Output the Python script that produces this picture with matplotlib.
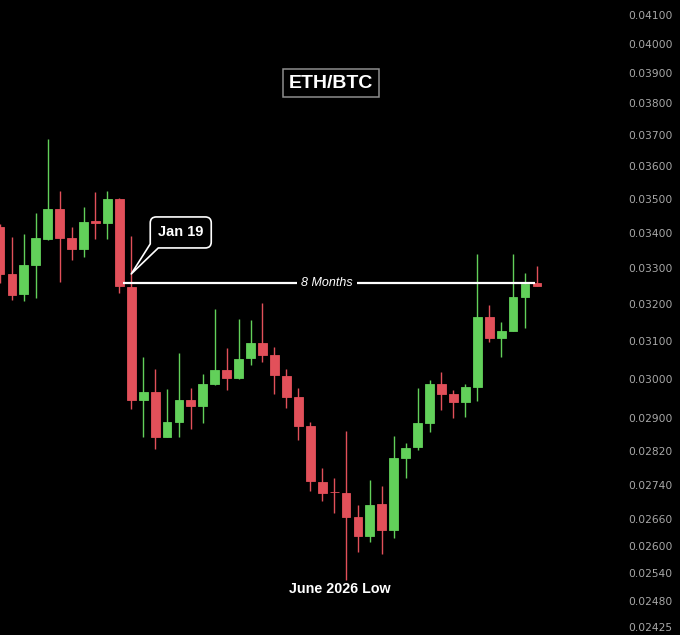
import numpy as np
import matplotlib
matplotlib.use("Agg")
import matplotlib.pyplot as plt
import matplotlib.transforms as mtransforms
from matplotlib.path import Path
from matplotlib.patches import PathPatch
from matplotlib.ticker import FixedLocator, FixedFormatter, NullLocator

# ---------------- data (ETH/BTC candles) ----------------
opens = [0.034187, 0.032819, 0.032261, 0.033082, 0.033828, 0.034701, 0.033848, 0.033539, 0.034356, 0.034288,
         0.035019, 0.032470, 0.029463, 0.029674, 0.028534, 0.028904, 0.029463, 0.029319, 0.029870, 0.030231,
         0.030031, 0.030536, 0.030948, 0.030631, 0.030083, 0.029530, 0.028812, 0.027468, 0.027225, 0.027195,
         0.026654, 0.026216, 0.026939, 0.026352, 0.028024, 0.028290, 0.028894, 0.029862, 0.029615, 0.029405,
         0.029801, 0.031646, 0.031080, 0.031260, 0.032194, 0.032567]
closes = [0.032828, 0.032241, 0.033074, 0.033848, 0.034701, 0.033848, 0.033530, 0.034326, 0.034297, 0.035019,
          0.032477, 0.029463, 0.029674, 0.028534, 0.028911, 0.029463, 0.029319, 0.029870, 0.030231, 0.030031,
          0.030525, 0.030948, 0.030631, 0.030101, 0.029530, 0.028812, 0.027492, 0.027209, 0.027213, 0.026654,
          0.026216, 0.026923, 0.026352, 0.028024, 0.028280, 0.028894, 0.029862, 0.029615, 0.029405, 0.029801,
          0.031646, 0.031080, 0.031260, 0.032194, 0.032538, 0.032499]
highs = [0.034267, 0.033895, 0.033965, 0.034583, 0.036850, 0.035261, 0.034187, 0.034779, 0.035231, 0.035261,
         0.035049, 0.033915, 0.030578, 0.030257, 0.029734, 0.030668, 0.029775, 0.030119, 0.031847, 0.030807,
         0.031591, 0.031557, 0.032029, 0.030842, 0.030257, 0.029775, 0.028919, 0.027785, 0.027547, 0.028697,
         0.026923, 0.027508, 0.027373, 0.028566, 0.028402, 0.029775, 0.029973, 0.030171, 0.029717, 0.029862,
         0.033396, 0.031965, 0.031495, 0.033396, 0.032848, 0.033054]
lows = [0.032575, 0.032103, 0.032075, 0.032149, 0.033800, 0.032611, 0.033225, 0.033318, 0.033819, 0.033819,
        0.032288, 0.029228, 0.028534, 0.028241, 0.028529, 0.028534, 0.028745, 0.028879, 0.029844, 0.029717,
        0.029998, 0.030353, 0.030440, 0.029615, 0.029261, 0.028468, 0.027256, 0.027023, 0.026746, 0.025245,
        0.025865, 0.026075, 0.025814, 0.026164, 0.027547, 0.028225, 0.028672, 0.029211, 0.029003, 0.029028,
        0.029438, 0.030959, 0.030562, 0.031260, 0.031332, 0.032491]

tick_values = [0.04100, 0.04000, 0.03900, 0.03800, 0.03700, 0.03600, 0.03500, 0.03400, 0.03300, 0.03200,
               0.03100, 0.03000, 0.02900, 0.02820, 0.02740, 0.02660, 0.02600, 0.02540, 0.02480, 0.02425]
tick_labels = ["0.04100", "0.04000", "0.03900", "0.03800", "0.03700", "0.03600", "0.03500", "0.03400",
               "0.03300", "0.03200", "0.03100", "0.03000", "0.02900", "0.02820", "0.02740", "0.02660",
               "0.02600", "0.02540", "0.02480", "0.02425"]

title = "ETH/BTC"
level_price = 0.032575          # Jan 19 level
level_span = (10.35, 44.85)     # candle index range of the level line
level_label = "8 Months"
callout_label = "Jan 19"
callout_index = 11
callout_price = 0.032828
low_label = "June 2026 Low"
low_label_pos = (28.5, 0.02505)

GREEN = "#62d05a"
RED = "#e2505a"
WHITE = "#ffffff"
SANS = ["Liberation Sans", "DejaVu Sans"]

# ---------------- figure ----------------
W, H = 680, 635
fig = plt.figure(figsize=(W / 100, H / 100), dpi=100, facecolor="black")
ax = fig.add_axes([0, 0, 622 / W, 1], facecolor="black")
ax.set_yscale("log")
ax.set_ylim(0.02408, 0.04153)
ax.set_xlim(0, 52.13)

o = np.array(opens); c = np.array(closes); h = np.array(highs); l = np.array(lows)
x = np.arange(len(o))
cols = [GREEN if cc >= oo else RED for oo, cc in zip(o, c)]

ax.vlines(x, l, h, colors=cols, linewidth=1.0, zorder=2)
ax.bar(x, np.abs(c - o), bottom=np.minimum(o, c), width=0.74, color=cols,
       edgecolor=cols, linewidth=0.6, zorder=3)

# axis styling
for s in ax.spines.values():
    s.set_visible(False)
ax.xaxis.set_visible(False)
ax.yaxis.tick_right()
ax.yaxis.set_major_locator(FixedLocator(tick_values))
ax.yaxis.set_major_formatter(FixedFormatter(tick_labels))
ax.yaxis.set_minor_locator(NullLocator())
ax.tick_params(axis="y", length=0, pad=4.3, labelsize=7.7, labelcolor="#a8a8a8")

# level line with label
ax.hlines(level_price, level_span[0], level_span[1], color=WHITE, linewidth=1.6, zorder=5)
ax.text(27.4, level_price, level_label, color=WHITE, fontsize=9, style="italic",
        family=SANS, ha="center", va="center", zorder=6,
        bbox=dict(boxstyle="square,pad=0.35", fc="black", ec="none"))

# title
ax.text(331 / 622, 1 - 83 / 635, title, transform=ax.transAxes, color=WHITE,
        fontsize=14, fontweight="bold", family=SANS, ha="center", va="center", zorder=6,
        bbox=dict(boxstyle="square,pad=0.3", fc="black", ec="#8e8e8e", lw=1.1))

# callout bubble (offsets in pixels from tip, converted to points)
k = 72 / 100
r = 6
x0, x1, y0, y1 = 19, 80, 26, 57
verts = [(0, 0), (27, y0), (x1 - r, y0), (x1, y0), (x1, y0 + r), (x1, y1 - r), (x1, y1),
         (x1 - r, y1), (x0 + r, y1), (x0, y1), (x0, y1 - r), (x0, 30), (0, 0)]
codes = [Path.MOVETO, Path.LINETO, Path.LINETO, Path.CURVE3, Path.CURVE3, Path.LINETO,
         Path.CURVE3, Path.CURVE3, Path.LINETO, Path.CURVE3, Path.CURVE3, Path.LINETO, Path.CLOSEPOLY]
verts = [(vx * k, vy * k) for vx, vy in verts]
trans = (mtransforms.Affine2D().scale(1 / 72) + fig.dpi_scale_trans
         + mtransforms.ScaledTranslation(callout_index, callout_price, ax.transData))
patch = PathPatch(Path(verts, codes), transform=trans, fc="black", ec=WHITE, lw=1.2,
                  zorder=7, joinstyle="round")
ax.add_patch(patch)
ax.annotate(callout_label, xy=(callout_index, callout_price), xytext=(49.5 * k, 41.5 * k),
            textcoords="offset points", color=WHITE, fontsize=10.5, fontweight="bold",
            family=SANS, ha="center", va="center", zorder=8)

# low label
ax.text(low_label_pos[0], low_label_pos[1], low_label, color=WHITE, fontsize=10.3,
        fontweight="bold", family=SANS, ha="center", va="center", zorder=6)

fig.savefig("out.png", dpi=100, facecolor="black")
